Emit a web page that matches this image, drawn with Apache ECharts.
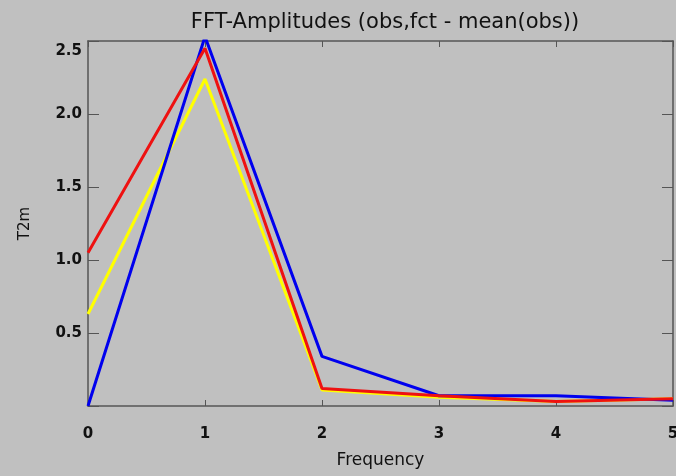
<!DOCTYPE html>
<html><head><meta charset="utf-8">
<script src="https://cdn.jsdelivr.net/npm/echarts@6/dist/echarts.min.js"></script>
<style>html,body{margin:0;padding:0;background:#c0c0c0}#c{width:676px;height:476px}</style>
</head><body><div id="c"></div>
<script>
const frequencies = [0, 1, 2, 3, 4, 5];
const blueValues = [0.0, 2.53, 0.34, 0.07, 0.07, 0.04];
const yellowValues = [0.63, 2.24, 0.11, 0.06, 0.03, 0.05];
const redValues = [1.05, 2.45, 0.12, 0.07, 0.03, 0.05];
const yTicks = [0.5, 1.0, 1.5, 2.0, 2.5];
const titleText = 'FFT-Amplitudes (obs,fct - mean(obs))';

const pair = v => frequencies.map((f, i) => [f, v[i]]);
const axisCol = '#555';
const fontFam = 'DejaVu Sans, sans-serif';

const chart = echarts.init(document.getElementById('c'));
chart.setOption({
  backgroundColor: '#c0c0c0',
  animation: false,
  title: { text: titleText, left: 380, top: 7, textAlign: 'center',
    textStyle: { fontFamily: fontFam, fontSize: 21, fontWeight: 'normal', color: '#111' } },
  grid: { left: 88, right: 3, top: 41, bottom: 70, show: false, outerBoundsMode: 'none', containLabel: false },
  xAxis: [
    { type: 'value', min: 0, max: 5, interval: 1, position: 'bottom',
      name: 'Frequency', nameLocation: 'middle', nameGap: 46,
      nameTextStyle: { fontFamily: fontFam, fontSize: 17, color: '#111' },
      axisLine: { show: true, onZero: false, lineStyle: { color: axisCol, width: 1.5 } },
      axisTick: { show: true, inside: true, length: 6, lineStyle: { color: axisCol } },
      axisLabel: { margin: 21, fontFamily: fontFam, fontSize: 15, fontWeight: 'bold', color: '#111' },
      splitLine: { show: false } },
    { type: 'value', min: 0, max: 5, interval: 1, position: 'top',
      axisLine: { show: true, onZero: false, lineStyle: { color: axisCol, width: 1.5 } },
      axisTick: { show: true, inside: true, length: 6, lineStyle: { color: axisCol } },
      axisLabel: { show: false }, splitLine: { show: false } }
  ],
  yAxis: [
    { type: 'value', min: 0, max: 2.5, interval: 0.5, position: 'left',
      name: 'T2m', nameLocation: 'middle', nameGap: 55, nameRotate: 90,
      nameTextStyle: { fontFamily: fontFam, fontSize: 15, color: '#111' },
      axisLine: { show: true, onZero: false, lineStyle: { color: axisCol, width: 1.5 } },
      axisTick: { show: true, inside: true, length: 11, lineStyle: { color: axisCol } },
      axisLabel: { margin: 6, fontFamily: fontFam, fontSize: 15, fontWeight: 'bold', color: '#111',
        verticalAlignMaxLabel: 'top',
        formatter: v => {
          if (!yTicks.some(t => Math.abs(t - v) < 1e-9)) return '';
          return v === yTicks[yTicks.length - 1] ? '{top|' + v.toFixed(1) + '}' : v.toFixed(1);
        },
        rich: { top: { fontFamily: fontFam, fontSize: 15, fontWeight: 'bold', color: '#111', padding: [3, 0, 0, 0] } } },
      splitLine: { show: false } },
    { type: 'value', min: 0, max: 2.5, interval: 0.5, position: 'right',
      axisLine: { show: true, onZero: false, lineStyle: { color: axisCol, width: 1.5 } },
      axisTick: { show: true, inside: true, length: 11, lineStyle: { color: axisCol } },
      axisLabel: { show: false }, splitLine: { show: false } }
  ],
  series: [
    { type: 'line', data: pair(yellowValues), showSymbol: false, lineStyle: { color: '#ffff00', width: 3 }, itemStyle: { color: '#ffff00' } },
    { type: 'line', data: pair(blueValues), showSymbol: false, lineStyle: { color: '#0000ee', width: 3 }, itemStyle: { color: '#0000ee' } },
    { type: 'line', data: pair(redValues), showSymbol: false, lineStyle: { color: '#ee1111', width: 3 }, itemStyle: { color: '#ee1111' } }
  ]
});
</script></body></html>
